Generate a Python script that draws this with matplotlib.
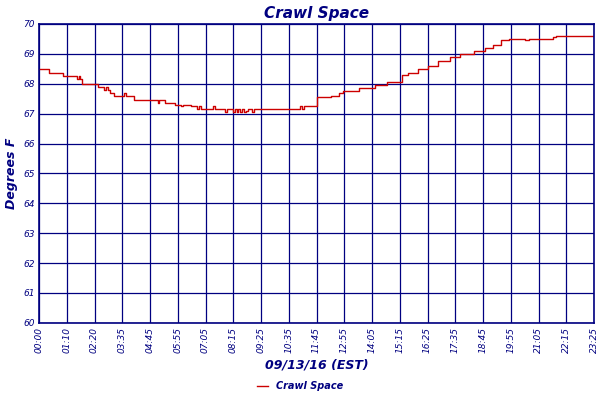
import matplotlib
matplotlib.use("Agg")
import matplotlib.pyplot as plt

# step change times (minutes after midnight) and temperatures
times = [0, 25, 60, 95, 100, 105, 110, 150, 165, 170, 175, 180, 190, 210, 215, 220,
         240, 290, 300, 305, 320, 345, 360, 365, 385, 400, 405, 410, 430, 440, 445,
         460, 470, 475, 480, 490, 495, 500, 505, 510, 515, 520, 525, 530, 535, 540, 545,
         555, 565, 570, 575, 620, 650, 660, 665, 670, 705, 740, 760, 770, 810, 850,
         880, 920, 935, 960, 985, 1010, 1040, 1065, 1100, 1130, 1150, 1170, 1190,
         1210, 1230, 1240, 1250, 1290, 1300, 1310, 1320, 1390, 1405]
temps = [68.5, 68.35, 68.25, 68.15, 68.25, 68.15, 68.0, 67.9, 67.8, 67.9, 67.8, 67.7,
         67.6, 67.6, 67.7, 67.6, 67.45, 67.45, 67.35, 67.45, 67.35, 67.3, 67.25, 67.3,
         67.25, 67.15, 67.25, 67.15, 67.15, 67.25, 67.15, 67.15, 67.05, 67.15, 67.15,
         67.05, 67.15, 67.05, 67.15, 67.05, 67.15, 67.05, 67.1, 67.15, 67.15, 67.05, 67.15,
         67.15, 67.15, 67.15, 67.15, 67.15, 67.15, 67.25, 67.15, 67.25, 67.55, 67.6,
         67.7, 67.75, 67.85, 67.95, 68.05, 68.3, 68.35, 68.5, 68.6, 68.75, 68.9, 69.0,
         69.1, 69.2, 69.3, 69.45, 69.5, 69.5, 69.45, 69.5, 69.5, 69.5, 69.55, 69.6,
         69.6, 69.6, 69.6]
tick_labels = ["00:00", "01:10", "02:20", "03:35", "04:45", "05:55", "07:05", "08:15",
               "09:25", "10:35", "11:45", "12:55", "14:05", "15:15", "16:25", "17:35",
               "18:45", "19:55", "21:05", "22:15", "23:25"]

navy = "#000080"
font = dict(family="DejaVu Sans", style="italic", color=navy)

fig = plt.figure(figsize=(6, 4), dpi=100)
ax = fig.add_axes([0.065, 0.193, 0.925, 0.747])
ax.step(times, temps, where="post", color="#cc0000", lw=1.0, label="Crawl Space")
ax.set_xlim(0, 1405)
ax.set_ylim(60, 70)
ax.set_xticks([i * 1405 / 20 for i in range(21)])
ax.set_xticklabels(tick_labels, rotation=90, fontsize=6.5, **font)
ax.set_yticks(range(60, 71))
ax.set_yticklabels([str(v) for v in range(60, 71)], fontsize=6.5, **font)
ax.tick_params(length=0, pad=3)
ax.grid(True, color=navy, lw=0.9)
for s in ax.spines.values():
    s.set_color(navy)
    s.set_linewidth(1.2)
ax.set_title("Crawl Space", fontsize=11, fontweight="bold", pad=4, **font)
ax.set_ylabel("Degrees F", fontsize=9, fontweight="bold", labelpad=4, **font)
ax.set_xlabel("09/13/16 (EST)", fontsize=9, fontweight="bold", labelpad=4, **font)
leg = fig.legend(loc="lower center", bbox_to_anchor=(0.5, 0.0), frameon=False,
                 fontsize=7, handlelength=1.2)
for t in leg.get_texts():
    t.set_color(navy)
    t.set_style("italic")
    t.set_fontweight("bold")
fig.savefig("out.png", dpi=100)
